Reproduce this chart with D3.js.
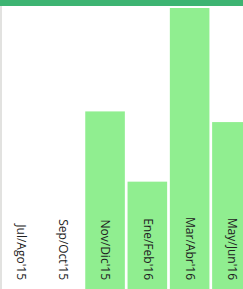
<!DOCTYPE html>
<html>
<head>
<meta charset="utf-8">
<script src="https://cdn.jsdelivr.net/npm/d3@7"></script>
<style>
  body { margin: 0; overflow: hidden; background: #fff; }
  #chart { position: relative; width: 243px; height: 289px; }
</style>
</head>
<body>
<div id="chart"></div>
<script>
const periods = ["Jul/Ago'15", "Sep/Oct'15", "Nov/Dic'15", "Ene/Feb'16", "Mar/Abr'16", "May/Jun'16"];
const sales = [0, 0, 63.2, 38.2, 100, 59.4];

const width = 243, height = 289;

const svg = d3.select("#chart")
    .append("svg")
    .attr("width", width)
    .attr("height", height);

// header strip + left border of the card
svg.append("rect")
    .attr("x", 0).attr("y", 0)
    .attr("width", width).attr("height", 6)
    .attr("fill", "#3db472");
svg.append("rect")
    .attr("x", 0).attr("y", 6)
    .attr("width", 2).attr("height", height - 6)
    .attr("fill", "#e2e2e0");

const x = d3.scaleBand()
    .domain(periods)
    .range([0, 252.4])
    .paddingInner(0.064)
    .paddingOuter(0.016);

const y = d3.scaleLinear()
    .domain([0, 100])
    .range([height, 8]);

svg.selectAll(".bar")
    .data(periods)
    .join("rect")
    .attr("class", "bar")
    .attr("x", d => x(d))
    .attr("y", (d, i) => y(sales[i]))
    .attr("width", x.bandwidth())
    .attr("height", (d, i) => y(0) - y(sales[i]))
    .attr("fill", "#90ee90");

svg.selectAll(".label")
    .data(periods)
    .join("text")
    .attr("class", "label")
    .attr("transform", d => `translate(${x(d) + x.bandwidth() / 2 + 0.5}, 280) rotate(90)`)
    .attr("text-anchor", "end")
    .attr("dy", "0.35em")
    .style("font-family", "'Open Sans', sans-serif")
    .style("font-size", "12px")
    .style("fill", "#222")
    .text(d => d);
</script>
</body>
</html>
